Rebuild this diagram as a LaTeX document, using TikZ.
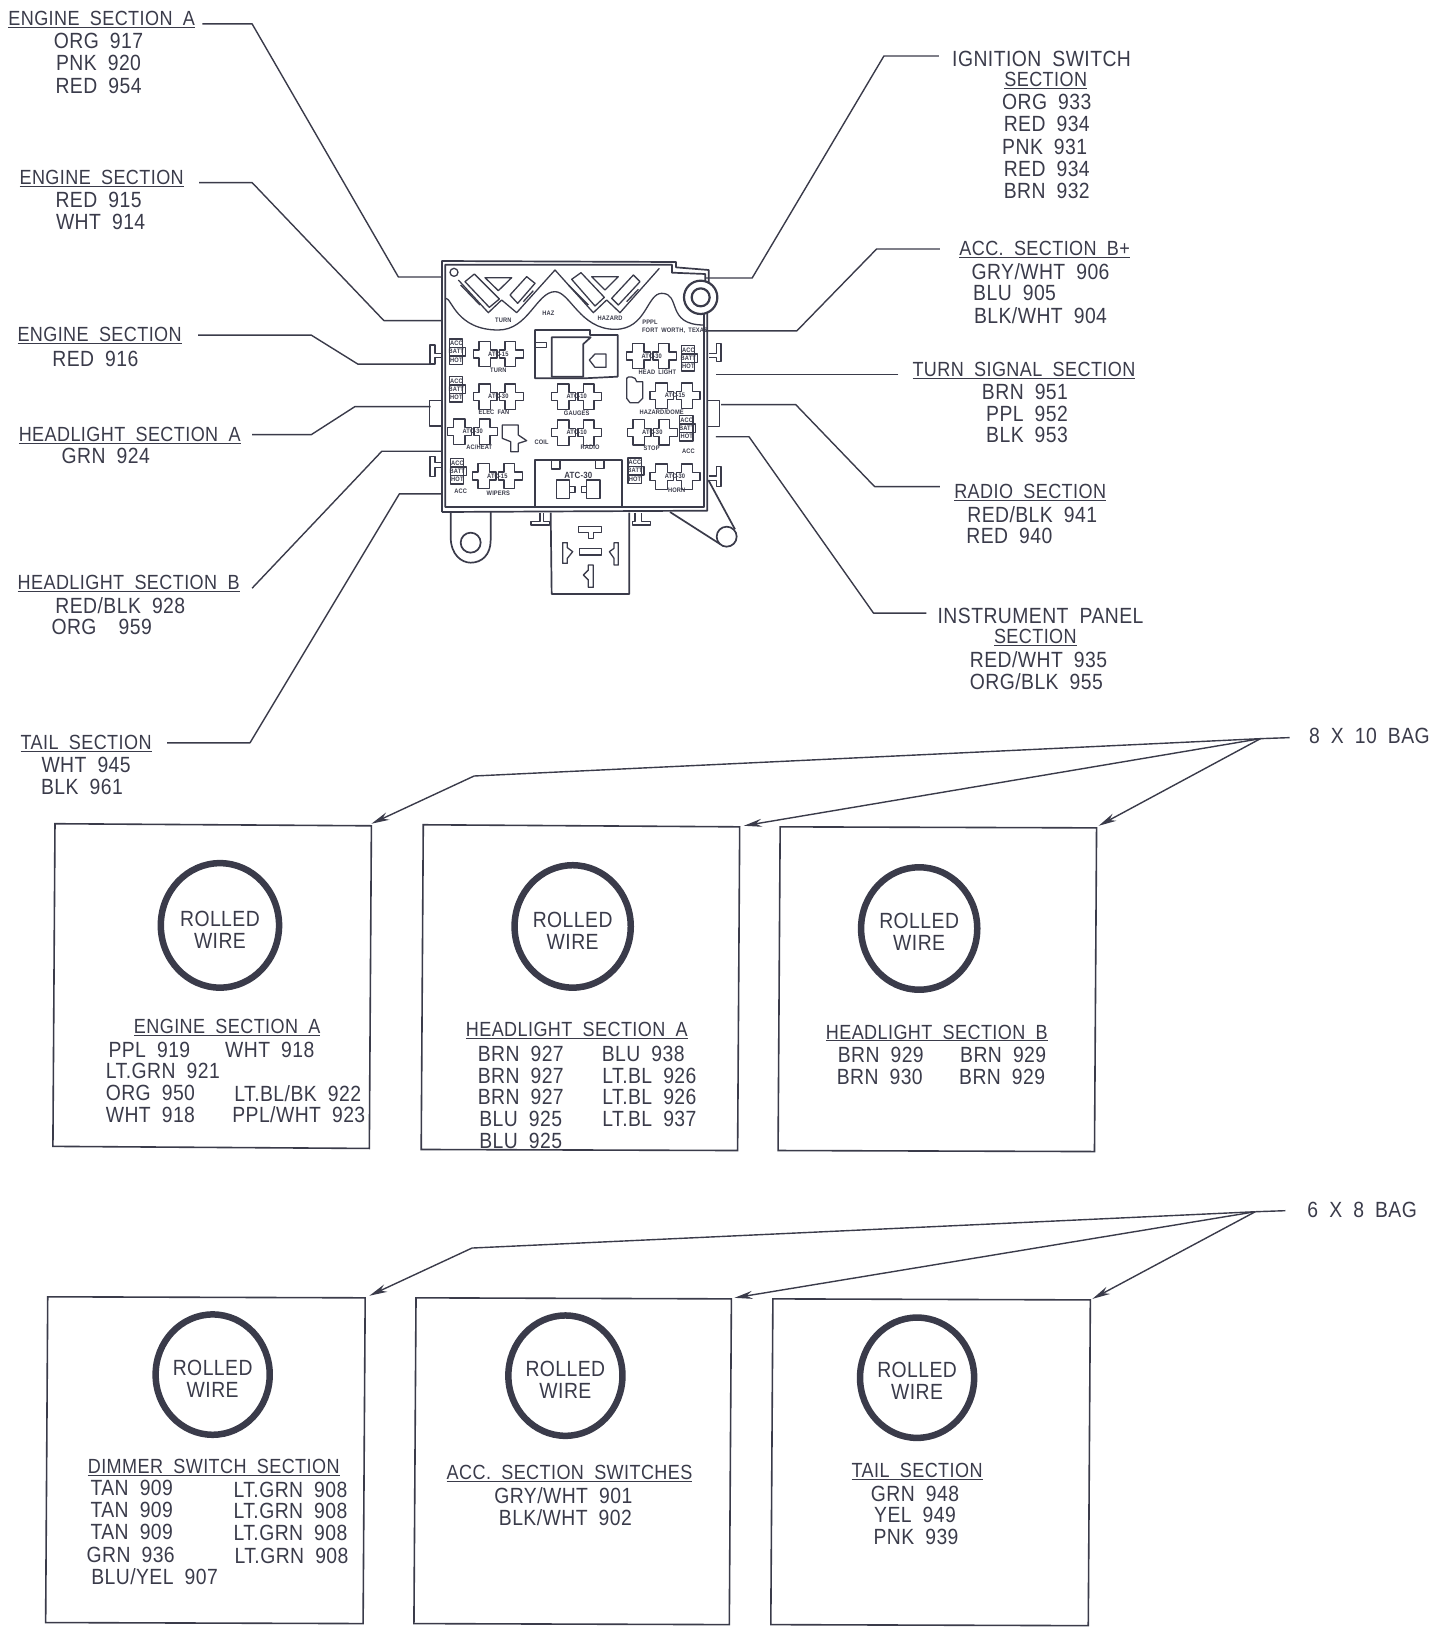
\documentclass[tikz,border=0pt]{standalone}
\usepackage{fontspec}
\setmainfont[WordSpace=1.9,LetterSpace=2,FakeStretch=0.88]{Liberation Sans}
\usetikzlibrary{arrows.meta}
\definecolor{ink}{HTML}{3A3B4A}
\newcommand{\U}[1]{{\fontsize{20.5}{20.5}\selectfont\underline{#1}}}
\newcommand{\T}[4]{\node[txt] (#1) at (#2,#3+0.7) {#4};}
\tikzset{
  txt/.style={font=\fontsize{22}{22}\selectfont,text=ink,inner sep=0pt,outer sep=0pt},
  wire/.style={draw=ink,line width=1.4pt,line join=round},
  bagbox/.style={draw=ink,line width=1.6pt},
  roll/.style={draw=ink,line width=6.5pt},
  arr/.style={draw=ink,line width=1.4pt,-{Stealth[length=18pt,width=8pt]}},
  part/.style={draw=ink,line width=1.3pt,line join=round},
  heavy/.style={draw=ink,line width=1.7pt,line join=round},
  tiny/.style={font=\fontsize{6.5}{6.5}\bfseries\selectfont,text=ink,inner sep=0pt},
}
% a pair of crosses with its fuse rating between them
\newcommand{\fuse}[4]{%
  \draw[part,fill=white] (#2-75,#3-12)--(#2-58,#3-12)--(#2-58,#3-38)--(#2-23,#3-38)--(#2-23,#3-12)--(#2-4,#3-12)--(#2-4,#3+12)--(#2-23,#3+12)--(#2-23,#3+38)--(#2-58,#3+38)--(#2-58,#3+12)--(#2-75,#3+12)--cycle;
  \draw[part,fill=white] (#2+75,#3-12)--(#2+52,#3-12)--(#2+52,#3-38)--(#2+20,#3-38)--(#2+20,#3-12)--(#2+4,#3-12)--(#2+4,#3+12)--(#2+20,#3+12)--(#2+20,#3+38)--(#2+52,#3+38)--(#2+52,#3+12)--(#2+75,#3+12)--cycle;
  \node[tiny] (#1) at (#2,#3) {#4};
}
\newcommand{\blk}[4]{%
  \draw[part] (#2-24,#3-38) rectangle (#2+16,#3+38);
  \draw[part] (#2-24,#3-13)--(#2+24,#3-13)--(#2+24,#3+13)--(#2-24,#3+13);
  \node[tiny] (#1a) at (#2-3,#3-25) {#4};
  \node[tiny] (#1b) at (#2-3,#3) {BATT};
  \node[tiny] (#1c) at (#2-3,#3+25) {HOT};
}
\begin{document}
\begin{tikzpicture}[x=1.03741pt,y=-1.03741pt]
\useasboundingbox (0,0) rectangle (1390,1568.3);
% --- left labels
\T{ea}{98}{18}{\U{ENGINE SECTION A}}
\T{ea1}{95}{39}{ORG 917}\T{ea2}{95}{60}{PNK 920}\T{ea3}{95}{82}{RED 954}
\T{eb}{98}{171}{\U{ENGINE SECTION}}
\T{eb1}{95}{192}{RED 915}\T{eb2}{97}{213}{WHT 914}
\T{ec}{96}{323}{\U{ENGINE SECTION}}
\T{ec1}{92}{345}{RED 916}
\T{ha}{125}{419}{\U{HEADLIGHT SECTION A}}
\T{ha1}{102}{439}{GRN 924}
\T{hb}{124}{562}{\U{HEADLIGHT SECTION B}}
\T{hb1}{116}{583}{RED/BLK 928}\T{hb2}{98}{604}{ORG\ \ 959}
\T{tl}{83}{716}{\U{TAIL SECTION}}
\T{tl1}{83}{737}{WHT 945}\T{tl2}{79}{758}{BLK 961}
% --- right labels
\T{ig}{1004}{56}{IGNITION SWITCH}
\T{ig0}{1008}{77}{\U{SECTION}}
\T{ig1}{1009}{98}{ORG 933}\T{ig2}{1009}{119}{RED 934}\T{ig3}{1007}{141}{PNK 931}\T{ig4}{1009}{162}{RED 934}\T{ig5}{1009}{183}{BRN 932}
\T{ac}{1007}{240}{\U{ACC. SECTION B+}}
\T{ac1}{1003}{261}{GRY/WHT 906}\T{ac2}{978}{282}{BLU 905}\T{ac3}{1003}{304}{BLK/WHT 904}
\T{ts}{987}{356}{\U{TURN SIGNAL SECTION}}
\T{ts1}{988}{377}{BRN 951}\T{ts2}{990}{398}{PPL 952}\T{ts3}{990}{419}{BLK 953}
\T{ra}{993}{474}{\U{RADIO SECTION}}
\T{ra1}{995}{495}{RED/BLK 941}\T{ra2}{973}{516}{RED 940}
\T{ip}{1003}{593}{INSTRUMENT PANEL}
\T{ip0}{998}{614}{\U{SECTION}}
\T{ip1}{1001}{635}{RED/WHT 935}\T{ip2}{999}{656}{ORG/BLK 955}
\T{b10}{1320}{709}{8 X 10 BAG}
\T{b8}{1313}{1166}{6 X 8 BAG}
% --- connector ends on the fuse box
\coordinate (L1) at (427,267);\coordinate (L2) at (427,309);\coordinate (L3) at (415,351);
\coordinate (L4) at (415,392);\coordinate (L5) at (427,435);\coordinate (L6) at (427,476);
\coordinate (R1) at (680,268);\coordinate (R2) at (680,319);\coordinate (R3) at (690,361);
\coordinate (R4) at (695,390);\coordinate (R5) at (690,421);
\coordinate (S1) at (195,23);\coordinate (S2) at (192,176);\coordinate (S3) at (191,323);
\coordinate (S4) at (243,419);\coordinate (S5) at (243,567);\coordinate (S6) at (161,716);
\coordinate (Q1) at (905,54);\coordinate (Q2) at (906,240);\coordinate (Q3) at (866,361);
\coordinate (Q4) at (906,469);\coordinate (Q5) at (893,591);
\draw[wire] (S1)--(243,23)--(384,267)--(L1);
\draw[wire] (S2)--(243,176)--(370,309)--(L2);
\draw[wire] (S3)--(300,323)--(345,351)--(L3);
\draw[wire] (S4)--(300,419)--(342,392)--(L4);
\draw[wire] (S5)--(368,435)--(L5);
\draw[wire] (S6)--(241,716)--(385,476)--(L6);
\draw[wire] (Q1)--(852,54)--(725,268)--(R1);
\draw[wire] (Q2)--(845,240)--(768,319)--(R2);
\draw[wire] (Q3)--(R3);
\draw[wire] (Q4)--(843,469)--(767,390)--(R4);
\draw[wire] (Q5)--(842,591)--(722,421)--(R5);
% --- fuse box, traced in 3x crop coordinates
\begin{scope}[shift={(420pt,-250pt)},x=0.33333pt,y=-0.33333pt]
\draw[heavy] (66,786)--(66,33)--(768,36)--(768,52)--(866,60)--(866,100);
\draw[heavy] (862,185)--(862,782)--(66,786);
\draw[heavy] (76,772)--(76,44)--(756,44)--(756,68)--(856,72)--(856,95);
\draw[heavy] (852,190)--(852,772)--(76,772);
\draw[heavy,line width=2.2pt] (842,142) circle (50);
\draw[heavy,line width=2.2pt] (842,142) circle (27);
\draw[part] (102,67) circle (12);
% scalloped edge and W channels
\draw[part] (78,145) .. controls (95,145) and (110,240) .. (235,240) .. controls (325,240) and (350,125) .. (405,125) .. controls (450,125) and (480,238) .. (585,238) .. controls (680,238) and (680,130) .. (725,130) .. controls (785,130) and (735,225) .. (852,225);
\draw[part] (115,90)--(205,188)--(245,150)--(290,188)--(405,60)--(520,188)--(560,150)--(600,188)--(718,55);
\draw[part] (122,105)--(180,165);
\draw[part] (310,155)--(340,122);
\draw[part] (445,105)--(505,165);
\draw[part] (620,155)--(655,118);
\draw[part] (135,95)--(163,72)--(238,147)--(208,172)--cycle;
\draw[part] (270,135)--(320,80)--(345,100)--(293,160)--cycle;
\draw[part] (455,88)--(483,68)--(553,142)--(525,168)--cycle;
\draw[part] (575,145)--(640,75)--(660,95)--(595,165)--cycle;
\draw[part] (195,83)--(275,83)--(235,122)--cycle;
\draw[part] (515,80)--(595,80)--(555,120)--cycle;
\node[tiny] (nTurn) at (250,210) {TURN};
\node[tiny] (nHaz) at (385,190) {HAZ};
\node[tiny] (nHazard) at (570,205) {HAZARD};
\node[tiny] (nP) at (690,217) {PPPL};
\node[tiny] (nFw) at (765,242) {FORT WORTH, TEXAS};
% side tabs
\draw[part] (66,310)--(45,310)--(45,285)--(30,285)--(30,342)--(45,342)--(45,322)--(66,322);
\draw[part] (66,638)--(45,638)--(45,620)--(30,620)--(30,680)--(45,680)--(45,652)--(66,652);
\draw[part] (66,452)--(28,452)--(28,528)--(66,528);
\draw[part] (866,310)--(890,310)--(890,280)--(903,280)--(903,335)--(890,335)--(890,322)--(866,322);
\draw[part] (866,678)--(890,678)--(890,650)--(903,650)--(903,710)--(890,710)--(890,692)--(866,692);
\draw[part] (862,452)--(898,452)--(898,530)--(862,530);
% fuses
\fuse{f1}{235}{312}{ATC-15}
\fuse{f2}{235}{440}{ATC-30}
\fuse{f3}{158}{545}{ATC-30}
\fuse{f4}{232}{678}{ATC-15}
\fuse{f5}{470}{440}{ATC-10}
\fuse{f6}{470}{548}{ATC-10}
\fuse{f7}{695}{318}{ATC-30}
\fuse{f8}{765}{437}{ATC-15}
\fuse{f9}{697}{547}{ATC-30}
\fuse{f10}{765}{680}{ATC-30}
\node[tiny] (l1) at (235,362) {TURN};
\node[tiny] (l2) at (222,487) {ELEC FAN};
\node[tiny] (l3) at (178,593) {AC/HEAT};
\node[tiny] (l4) at (235,730) {WIPERS};
\node[tiny] (l5) at (122,725) {ACC};
\node[tiny] (l6) at (470,490) {GAUGES};
\node[tiny] (l7) at (510,592) {RADIO};
\node[tiny] (l8) at (712,367) {HEAD LIGHT};
\node[tiny] (l9) at (725,487) {HAZARD/DOME};
\node[tiny] (l10) at (695,595) {STOP};
\node[tiny] (l11) at (805,605) {ACC};
\node[tiny] (l12) at (770,722) {HORN};
\node[tiny] (l13) at (365,578) {COIL};
% small blocks
\blk{b1}{112}{305}{ACC}
\blk{b2}{112}{418}{ACC}
\blk{b3}{115}{664}{ACC}
\blk{b4}{808}{325}{ACC}
\blk{b5}{803}{535}{ACC}
\blk{b6}{648}{662}{ACC}
\draw[part] (620,385) .. controls (620,378) and (650,378) .. (650,395)--(668,395)--(668,445)--(655,458)--(630,458)--(620,445)--cycle;
\draw[part] (247,525)--(295,525)--(295,555)--(320,572)--(295,580)--(295,605)--(272,605)--(272,575)--(247,565)--cycle;
% centre relays
\draw[heavy] (345,240)--(510,240)--(510,255)--(593,255)--(593,380)--(490,385)--(345,385)--cycle;
\draw[heavy] (395,262)--(512,262)--(490,282)--(490,380)--(395,380)--cycle;
\draw[part] (345,278)--(380,278)--(380,292)--(345,292);
\draw[part] (508,330)--(525,312)--(558,312)--(558,352)--(525,352)--cycle;
\draw[heavy] (345,772)--(345,630)--(605,630)--(605,772);
\draw[part] (395,630)--(395,657)--(420,657)--(420,630);
\draw[part] (527,630)--(527,655)--(552,655)--(552,630);
\draw[part] (410,690) rectangle (448,745);
\draw[part] (500,690) rectangle (540,745);
\draw[part] (448,710)--(465,710)--(465,728)--(448,728);
\draw[part] (500,710)--(485,710)--(485,728)--(500,728);
\node[tiny,font=\fontsize{9}{9}\bfseries\selectfont] (atc) at (475,675) {ATC-30};
% mounting lugs
\draw[heavy] (92,786)--(92,860) .. controls (92,915) and (125,938) .. (152,938) .. controls (185,938) and (212,915) .. (212,870)--(212,786);
\draw[heavy] (152,878) circle (30);
\draw[heavy] (750,786)--(900,882);
\draw[heavy] (865,690)--(945,838);
\draw[heavy] (920,860) circle (30);
% connector body
\draw[heavy] (392,788)--(395,1032)--(628,1032)--(628,788);
\draw[part] (360,788)--(360,815)--(333,815)--(333,825)--(388,825)--(388,815)--(370,815)--(370,788);
\draw[part] (645,788)--(645,815)--(637,815)--(637,825)--(692,825)--(692,815)--(665,815)--(665,788);
\draw[part] (475,830)--(545,830)--(545,848)--(520,848)--(520,865)--(505,865)--(505,848)--(475,848)--cycle;
\draw[part] (478,895) rectangle (545,915);
\draw[part] (428,878)--(442,878)--(442,893)--(458,905)--(442,925)--(442,940)--(428,940)--cycle;
\draw[part] (595,878)--(582,878)--(582,895)--(568,905)--(582,925)--(582,945)--(595,945)--cycle;
\draw[part] (520,945)--(505,945)--(505,960)--(490,975)--(505,990)--(505,1012)--(520,1012)--cycle;
\end{scope}
% --- 8 x 10 bags
\draw[bagbox] (53,794)--(358,796)--(356,1107)--(51,1105)--cycle;
\draw[bagbox] (408,795)--(713,797)--(711,1109)--(406,1108)--cycle;
\draw[bagbox] (752,797)--(1057,798)--(1055,1110)--(750,1109)--cycle;
\coordinate (A1) at (358,794);\coordinate (A2) at (717,796);\coordinate (A3) at (1059,796);
\coordinate (H1) at (1215,712);\coordinate (H1s) at (1243,711);
\draw[wire] (H1s)--(H1);
\draw[arr] (H1)--(457,748)--(A1);
\draw[arr] (H1)--(A2);
\draw[arr] (H1)--(A3);
\draw[roll] (212,892) ellipse [x radius=57,y radius=60];
\draw[roll] (552,893) ellipse [x radius=56,y radius=59];
\draw[roll] (886,895) ellipse [x radius=56,y radius=59];
\T{r1a}{212}{885}{ROLLED}\T{r1b}{212}{906}{WIRE}
\T{r2a}{552}{886}{ROLLED}\T{r2b}{552}{907}{WIRE}
\T{r3a}{886}{887}{ROLLED}\T{r3b}{886}{908}{WIRE}
\T{x1}{219}{990}{\U{ENGINE SECTION A}}
\T{x2}{144}{1011}{PPL 919}\T{x3}{260}{1011}{WHT 918}
\T{x4}{157}{1032}{LT.GRN 921}
\T{x5}{145}{1053}{ORG 950}\T{x6}{287}{1053}{LT.BL/BK 922}
\T{x7}{145}{1074}{WHT 918}\T{x8}{288}{1074}{PPL/WHT 923}
\T{y1}{556}{993}{\U{HEADLIGHT SECTION A}}
\T{y2}{502}{1015}{BRN 927}\T{y3}{620}{1015}{BLU 938}
\T{y4}{502}{1036}{BRN 927}\T{y5}{626}{1036}{LT.BL 926}
\T{y6}{502}{1057}{BRN 927}\T{y7}{626}{1057}{LT.BL 926}
\T{y8}{502}{1078}{BLU 925}\T{y9}{626}{1078}{LT.BL 937}
\T{y10}{502}{1099}{BLU 925}
\T{z1}{903}{995}{\U{HEADLIGHT SECTION B}}
\T{z2}{849}{1016}{BRN 929}\T{z3}{967}{1016}{BRN 929}
\T{z4}{848}{1037}{BRN 930}\T{z5}{966}{1037}{BRN 929}
% --- 6 x 8 bags
\draw[bagbox] (46,1250)--(352,1251)--(350,1565)--(44,1564)--cycle;
\draw[bagbox] (401,1251)--(705,1252)--(703,1566)--(399,1565)--cycle;
\draw[bagbox] (745,1252)--(1051,1253)--(1049,1567)--(743,1566)--cycle;
\coordinate (B1) at (356,1249);\coordinate (B2) at (708,1251);\coordinate (B3) at (1053,1252);
\coordinate (H2) at (1210,1168);\coordinate (H2s) at (1239,1167);
\draw[wire] (H2s)--(H2);
\draw[arr] (H2)--(455,1203)--(B1);
\draw[arr] (H2)--(B2);
\draw[arr] (H2)--(B3);
\draw[roll] (205,1325) ellipse [x radius=55,y radius=58];
\draw[roll] (545,1326) ellipse [x radius=55,y radius=58];
\draw[roll] (884,1328) ellipse [x radius=55,y radius=58];
\T{r4a}{205}{1318}{ROLLED}\T{r4b}{205}{1339}{WIRE}
\T{r5a}{545}{1319}{ROLLED}\T{r5b}{545}{1340}{WIRE}
\T{r6a}{884}{1320}{ROLLED}\T{r6b}{884}{1341}{WIRE}
\T{u1}{206}{1414}{\U{DIMMER SWITCH SECTION}}
\T{u2}{127}{1434}{TAN 909}\T{u3}{280}{1435}{LT.GRN 908}
\T{u4}{127}{1455}{TAN 909}\T{u5}{280}{1456}{LT.GRN 908}
\T{u6}{127}{1476}{TAN 909}\T{u7}{280}{1477}{LT.GRN 908}
\T{u8}{126}{1498}{GRN 936}\T{u9}{281}{1499}{LT.GRN 908}
\T{u10}{149}{1519}{BLU/YEL 907}
\T{v1}{549}{1420}{\U{ACC. SECTION SWITCHES}}
\T{v2}{543}{1441}{GRY/WHT 901}
\T{v3}{545}{1462}{BLK/WHT 902}
\T{w1}{884}{1418}{\U{TAIL SECTION}}
\T{w2}{882}{1439}{GRN 948}\T{w3}{882}{1460}{YEL 949}\T{w4}{883}{1481}{PNK 939}
\end{tikzpicture}
\end{document}
